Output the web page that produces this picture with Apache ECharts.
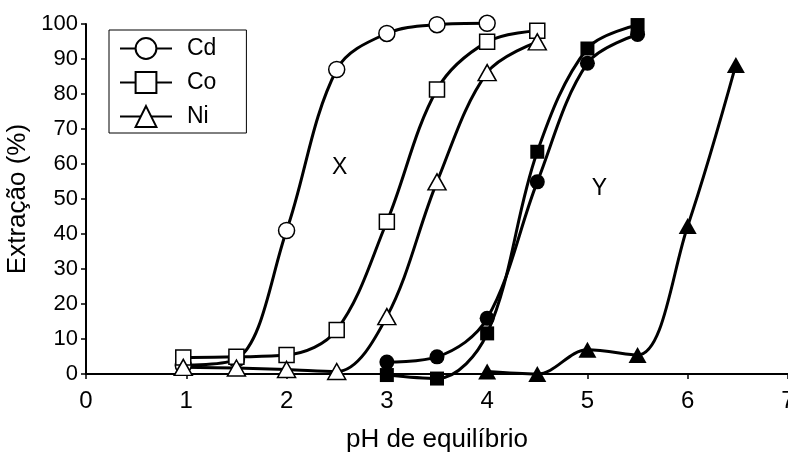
<!DOCTYPE html>
<html>
<head>
<meta charset="utf-8">
<script src="https://cdn.jsdelivr.net/npm/echarts@6/dist/echarts.min.js"></script>
<style>
	html, body { margin: 0; padding: 0; background: #fff; }
	#main { width: 788px; height: 452px; }
</style>
</head>
<body>
<div id="main"></div>
<script>
// série X (símbolos vazios)
const cdPH = [0.97, 1.5, 2.0, 2.5, 3.0, 3.5, 4.0]
const cdExt = [2.5, 4.2, 41, 87, 97.3, 99.8, 100.2]
const coPH = [0.97, 1.5, 2.0, 2.5, 3.0, 3.5, 4.0, 4.5]
const coExt = [4.7, 4.9, 5.4, 12.6, 43.5, 81.3, 94.9, 98.1]
const niPH = [0.97, 1.5, 2.0, 2.5, 3.0, 3.5, 4.0, 4.5]
const niExt = [1.9, 1.7, 1.3, 0.7, 16.4, 54.9, 86.1, 94.9]
// série Y (símbolos cheios)
const cdPH2 = [3.0, 3.5, 4.0, 4.5, 5.0, 5.5]
const cdExt2 = [3.4, 4.9, 15.9, 54.9, 88.8, 97]
const coPH2 = [3.0, 3.5, 4.0, 4.5, 5.0, 5.5]
const coExt2 = [-0.3, -1.3, 11.6, 63.5, 93, 99.7]
const niPH2 = [4.0, 4.5, 5.0, 5.5, 6.0, 6.48]
const niExt2 = [0.7, 0, 6.9, 5.4, 42.3, 88.3]
const xTicks = [0, 1, 2, 3, 4, 5, 6, 7]
const yTicks = [0, 10, 20, 30, 40, 50, 60, 70, 80, 90, 100]
const legendNames = ['Cd', 'Co', 'Ni']
// rótulos X / Y no gráfico
const groupLabels = [
	{ name: 'X', coord: [2.53, 59] },
	{ name: 'Y', coord: [5.12, 53] }
]

const pairs = (xs, ys) => xs.map((x, i) => [x, ys[i]])
const font = 'Liberation Sans, Arial, sans-serif'

const mkSeries = (name, xs, ys, symbol, size, filled) => ({
	name: name,
	type: 'line',
	smooth: 0.35,
	clip: false,
	symbol: symbol,
	symbolSize: size,
	showAllSymbol: true,
	lineStyle: { color: '#000', width: 3 },
	itemStyle: {
		color: filled ? '#000' : '#fff',
		borderColor: '#000',
		borderWidth: filled ? 0 : 1.5
	},
	emphasis: { disabled: true },
	data: pairs(xs, ys)
})

const chart = echarts.init(document.getElementById('main'))
const series = [
	mkSeries('Cd', cdPH, cdExt, 'circle', 16, false),
	mkSeries('Co', coPH, coExt, 'rect', 15, false),
	mkSeries('Ni', niPH, niExt, 'triangle', [18, 16], false),
	mkSeries('Cd2', cdPH2, cdExt2, 'circle', 15, true),
	mkSeries('Co2', coPH2, coExt2, 'rect', 14, true),
	mkSeries('Ni2', niPH2, niExt2, 'triangle', [18, 16], true)
]
series[0].markPoint = {
	symbol: 'circle',
	symbolSize: 1,
	itemStyle: { color: 'rgba(0,0,0,0)' },
	label: { show: true, position: 'inside', formatter: '{b}', color: '#000', fontFamily: font, fontSize: 23 },
	data: groupLabels.map(g => ({ name: g.name, coord: g.coord }))
}

const option = {
	animation: false,
	grid: { left: 86, right: 0, top: 24, bottom: 78, outerBoundsMode: 'none' },
	legend: {
		data: legendNames,
		orient: 'vertical',
		left: 109,
		top: 30,
		itemWidth: 52,
		itemHeight: 26,
		itemGap: 11,
		padding: [7, 30, 5, 10],
		borderColor: '#000',
		borderWidth: 1,
		textStyle: { fontFamily: font, fontSize: 23, color: '#000', padding: [0, 0, 0, 10] }
	},
	xAxis: {
		type: 'value',
		min: xTicks[0],
		max: xTicks[xTicks.length - 1],
		interval: 1,
		name: 'pH de equilíbrio',
		nameLocation: 'middle',
		nameGap: 53,
		nameTextStyle: { fontFamily: font, fontSize: 26, color: '#000' },
		axisLine: { lineStyle: { color: '#000', width: 2 } },
		axisTick: { length: 5, lineStyle: { color: '#000', width: 1.5 } },
		axisLabel: { fontFamily: font, fontSize: 24, color: '#000', margin: 15 },
		splitLine: { show: false }
	},
	yAxis: {
		type: 'value',
		min: yTicks[0],
		max: yTicks[yTicks.length - 1],
		interval: 10,
		name: 'Extração (%)',
		nameLocation: 'middle',
		nameGap: 45,
		nameTextStyle: { fontFamily: font, fontSize: 26, color: '#000' },
		axisLine: { show: true, lineStyle: { color: '#000', width: 2 } },
		axisTick: { show: true, length: 5, lineStyle: { color: '#000', width: 1.5 } },
		axisLabel: { fontFamily: font, fontSize: 22, color: '#000', margin: 8 },
		splitLine: { show: false }
	},
	series: series
}

chart.setOption(option)
</script>
</body>
</html>
